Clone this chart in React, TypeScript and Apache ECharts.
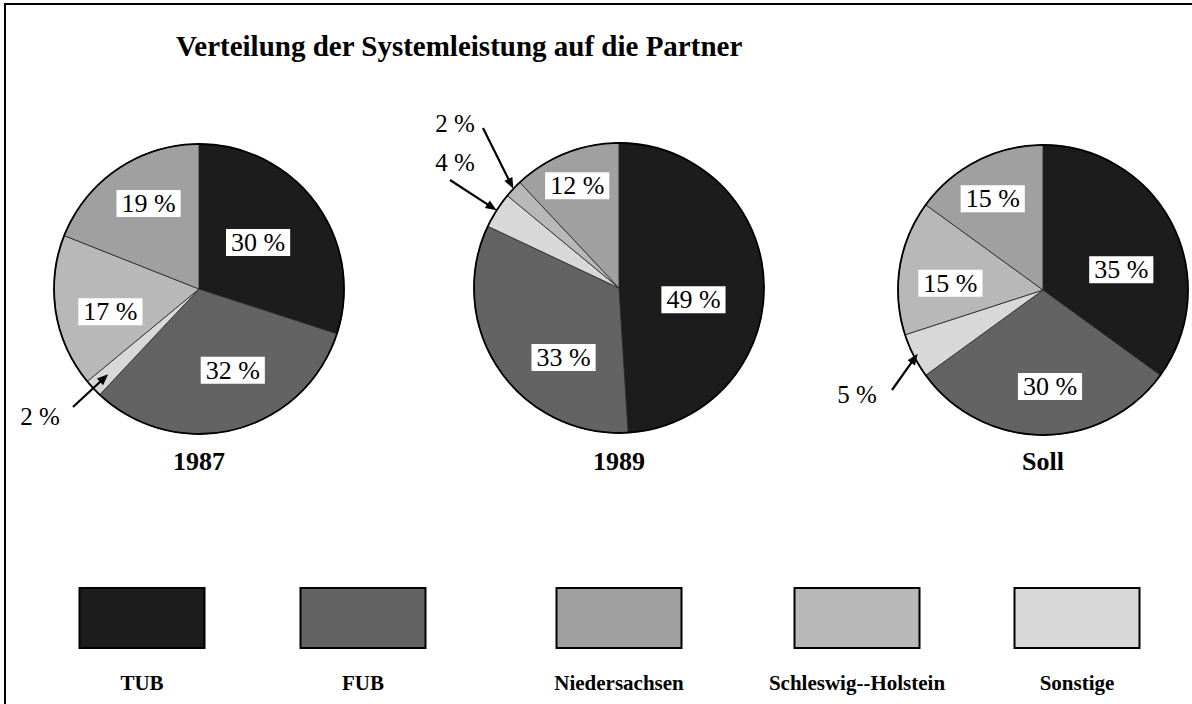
import React, { useEffect, useRef } from "react";
import * as echarts from "echarts";

// ---- data ----
const titleText = "Verteilung der Systemleistung auf die Partner";
const legendCategories = ["TUB", "FUB", "Niedersachsen", "Schleswig--Holstein", "Sonstige"];
// clockwise order of slices starting at 12 o'clock
const sliceCategories = ["TUB", "FUB", "Sonstige", "Schleswig--Holstein", "Niedersachsen"];
const pieNames = ["1987", "1989", "Soll"];
const values1987 = [30, 32, 2, 17, 19];
const values1989 = [49, 33, 4, 2, 12];
const valuesSoll = [35, 30, 5, 15, 15];
const pieValues = [values1987, values1989, valuesSoll];

// ---- style ----
const FONT = "'Liberation Serif', 'Times New Roman', serif";
const categoryColors: Record<string, string> = {
  TUB: "#1c1c1c",
  FUB: "#636363",
  Niedersachsen: "#a0a0a0",
  "Schleswig--Holstein": "#b8b8b8",
  Sonstige: "#d8d8d8",
};
const pieCenters: [number, number][] = [
  [199, 289],
  [619, 288],
  [1043, 290],
];
const pieRadius = 145;
const yearLabelY = 461;
// label offsets (dx, dy) for inside labels, per pie, per slice index
const insideOffsets: [number, number][][] = [
  [[-2, -2], [15, 8], [0, 0], [-14, 11], [-8, -23]],
  [[-1, 14], [7, 27], [0, 0], [0, 0], [-14, -32]],
  [[11, 14], [7, 21], [0, 0], [-18, 5], [-16, -24]],
];
// outside (arrow) labels: absolute text centre, arrow start, tip radius factor
const arrowLabels: Record<string, { text: [number, number]; start: [number, number]; tip: number }> = {
  "0-2": { text: [40, 416], start: [73, 407], tip: 0.86 },
  "1-2": { text: [455, 162], start: [450, 180], tip: 1.0 },
  "1-3": { text: [455, 123], start: [483, 128], tip: 1.0 },
  "2-2": { text: [857, 394], start: [892, 390], tip: 0.97 },
};
const legendCenters = [142, 363, 619, 857, 1077];
const legendRectW = 125;
const legendRectH = 60;
const legendRectTop = 588;
const legendTextY = 683;

function buildArrows() {
  const out: any[] = [];
  pieValues.forEach((vals, si) => {
    const total = vals.reduce((a, b) => a + b, 0);
    let cum = 0;
    vals.forEach((v, di) => {
      const key = `${si}-${di}`;
      const mid = cum + v / 2;
      cum += v;
      const a = arrowLabels[key];
      if (!a) return;
      const ang = (mid / total) * Math.PI * 2; // clockwise from 12 o'clock
      const [cx, cy] = pieCenters[si];
      const r = pieRadius * a.tip;
      const tx = cx + Math.sin(ang) * r;
      const ty = cy - Math.cos(ang) * r;
      const [sx, sy] = a.start;
      const dx = tx - sx;
      const dy = ty - sy;
      const len = Math.sqrt(dx * dx + dy * dy);
      const ux = dx / len;
      const uy = dy / len;
      const hl = 11;
      const hw = 4.5;
      const bx = tx - ux * hl;
      const by = ty - uy * hl;
      out.push({
        type: "line",
        shape: { x1: sx, y1: sy, x2: bx + ux * 2, y2: by + uy * 2 },
        style: { stroke: "#000", lineWidth: 2.2 },
        z: 100,
      });
      out.push({
        type: "polygon",
        shape: {
          points: [
            [tx, ty],
            [bx - uy * hw, by + ux * hw],
            [bx + uy * hw, by - ux * hw],
          ],
        },
        style: { fill: "#000" },
        z: 100,
      });
    });
  });
  return out;
}

export default function App() {
  const ref = useRef<HTMLDivElement>(null);
  useEffect(() => {
    if (!ref.current) return;
    const chart = echarts.init(ref.current, undefined, { renderer: "svg" });

    const series = pieValues.map((vals, si) => ({
      type: "pie",
      name: pieNames[si],
      center: pieCenters[si],
      radius: [0, pieRadius],
      startAngle: 90,
      clockwise: true,
      avoidLabelOverlap: false,
      silent: true,
      itemStyle: { borderColor: "#222", borderWidth: 0.8 },
      label: {
        show: true,
        position: "inside",
        formatter: "{c} %",
        fontFamily: FONT,
        fontSize: 26,
        color: "#000",
        backgroundColor: "#fff",
        padding: [1, 5, 0, 5],
      },
      labelLine: { show: false },
      emphasis: { disabled: true },
      data: vals.map((v, di) => {
        const key = `${si}-${di}`;
        const item: any = {
          name: sliceCategories[di],
          value: v,
          itemStyle: { color: categoryColors[sliceCategories[di]] },
        };
        if (arrowLabels[key]) {
          item.label = { backgroundColor: "transparent", padding: 0, fontSize: 25 };
        }
        return item;
      }),
      labelLayout: (p: any) => {
        const key = `${p.seriesIndex}-${p.dataIndex}`;
        const a = arrowLabels[key];
        if (a) return { x: a.text[0], y: a.text[1] };
        const off = insideOffsets[p.seriesIndex][p.dataIndex];
        return { dx: off[0], dy: off[1] };
      },
    }));

    const graphics: any[] = [
      // frame
      { type: "line", shape: { x1: 4, y1: 4, x2: 1192, y2: 4 }, style: { stroke: "#000", lineWidth: 2 } },
      { type: "line", shape: { x1: 5, y1: 4, x2: 5, y2: 704 }, style: { stroke: "#000", lineWidth: 2 } },
      {
        type: "text",
        x: 176,
        y: 46,
        style: {
          text: titleText,
          font: `bold 29px ${FONT}`,
          fill: "#000",
          textAlign: "left",
          textVerticalAlign: "middle",
        },
      },
      ...pieCenters.map((c) => ({
        type: "circle",
        shape: { cx: c[0], cy: c[1], r: pieRadius },
        style: { fill: "none", stroke: "#000", lineWidth: 1.8 },
        z: 50,
        silent: true,
      })),
      ...pieNames.map((n, i) => ({
        type: "text",
        x: pieCenters[i][0],
        y: yearLabelY,
        style: {
          text: n,
          font: `bold 26px ${FONT}`,
          fill: "#000",
          textAlign: "center",
          textVerticalAlign: "middle",
        },
      })),
      ...legendCategories.flatMap((c, i) => [
        {
          type: "rect",
          shape: {
            x: legendCenters[i] - legendRectW / 2,
            y: legendRectTop,
            width: legendRectW,
            height: legendRectH,
          },
          style: { fill: categoryColors[c], stroke: "#000", lineWidth: 2 },
        },
        {
          type: "text",
          x: legendCenters[i],
          y: legendTextY,
          style: {
            text: c,
            font: `bold 21px ${FONT}`,
            fill: "#000",
            textAlign: "center",
            textVerticalAlign: "middle",
          },
        },
      ]),
      ...buildArrows(),
    ];

    chart.setOption({
      animation: false,
      backgroundColor: "#fff",
      series,
      graphic: graphics,
    });
    return () => chart.dispose();
  }, []);

  return (
    <div
      ref={ref}
      style={{ position: "fixed", left: 0, top: 0, width: 1192, height: 704, background: "#fff" }}
    />
  );
}
